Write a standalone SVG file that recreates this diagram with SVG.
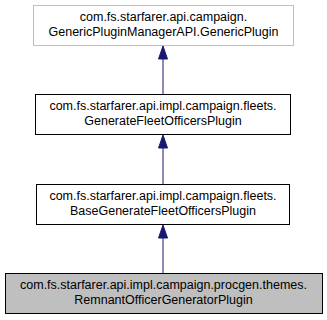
<svg xmlns="http://www.w3.org/2000/svg" width="327" height="320" viewBox="0 0 327 320">
  <style>
    .box { fill: #ffffff; stroke: #000000; stroke-width: 1; }
    .ext { stroke: #bfbfbf; }
    .cur { fill: #bfbfbf; }
    .lbl { font-family: "Liberation Sans", Arial, sans-serif; font-size: 12.5px; fill: #000000; text-anchor: middle; }
    .edge { stroke: #191970; stroke-width: 1; fill: none; }
    .head { fill: #191970; stroke: #191970; stroke-width: 1; }
  </style>

  <!-- inheritance connectors: each points up at its base class -->
  <g id="edges">
    <line class="edge" x1="163" y1="94.5" x2="163" y2="58"/>
    <path class="head" d="M163,46 L158.5,59 L167.5,59 Z"/>
    <line class="edge" x1="163" y1="184.5" x2="163" y2="147"/>
    <path class="head" d="M163,135 L158.5,148 L167.5,148 Z"/>
    <line class="edge" x1="163" y1="273.5" x2="163" y2="237"/>
    <path class="head" d="M163,225 L158.5,238 L167.5,238 Z"/>
  </g>

  <g id="node-generic-plugin">
    <rect class="box ext" x="33.5" y="5.5" width="260" height="40"/>
    <text class="lbl" x="163.5" y="21">com.fs.starfarer.api.campaign.</text>
    <text class="lbl" x="163.5" y="36">GenericPluginManagerAPI.GenericPlugin</text>
  </g>

  <g id="node-generate-fleet-officers">
    <rect class="box" x="35.5" y="94.5" width="255" height="40"/>
    <text class="lbl" x="163" y="110">com.fs.starfarer.api.impl.campaign.fleets.</text>
    <text class="lbl" x="163" y="125">GenerateFleetOfficersPlugin</text>
  </g>

  <g id="node-base-generate-fleet-officers">
    <rect class="box" x="36.5" y="184.5" width="253" height="40"/>
    <text class="lbl" x="163" y="200">com.fs.starfarer.api.impl.campaign.fleets.</text>
    <text class="lbl" x="163" y="215">BaseGenerateFleetOfficersPlugin</text>
  </g>

  <g id="node-remnant-officer-generator">
    <rect class="box cur" x="5.5" y="273.5" width="317" height="40"/>
    <text class="lbl" x="163.5" y="289">com.fs.starfarer.api.impl.campaign.procgen.themes.</text>
    <text class="lbl" x="163.5" y="304">RemnantOfficerGeneratorPlugin</text>
  </g>
</svg>
